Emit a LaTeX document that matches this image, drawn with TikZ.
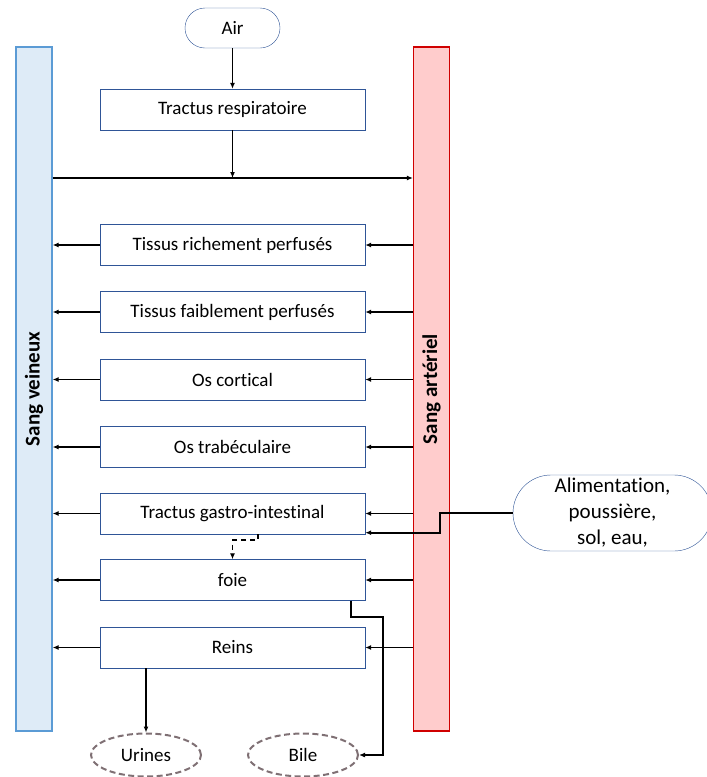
\documentclass[tikz,border=0pt]{standalone}
\usepackage{fontspec}
\setmainfont{Carlito}[Ligatures=NoCommon]
\usepackage{tikz}
\usetikzlibrary{arrows.meta,shapes.geometric,positioning}
\definecolor{boxblue}{HTML}{2F5597}
\definecolor{venfill}{HTML}{DEEBF7}
\definecolor{venline}{HTML}{5B9BD5}
\definecolor{artfill}{HTML}{FFCCCC}
\definecolor{artline}{HTML}{D00000}
\definecolor{outgray}{HTML}{7F7074}

\begin{document}
\begin{tikzpicture}[x=1pt, y=-1pt,
    every node/.style={font=\fontsize{19}{26}\selectfont},
    organ/.style={draw=boxblue, thin, fill=white, minimum width=265pt, minimum height=41pt, inner sep=0pt},
    term/.style={draw=boxblue, thin, rounded corners=#1, inner sep=0pt, align=center},
    bloodbar/.style={minimum width=36pt, minimum height=684pt, inner sep=0pt, line width=1.2pt},
    barlabel/.style={rotate=90, font=\fontsize{21}{24}\selectfont\bfseries},
    excr/.style={ellipse, draw=outgray, line width=2pt, dash pattern=on 6pt off 3.5pt, minimum width=110pt, minimum height=43pt, inner sep=0pt},
    arr/.style={-{Latex[length=6pt,width=5pt]}, line width=1.6pt}]
    \useasboundingbox (0,0) rectangle (707,777);
    % BLOOD COMPARTMENTS
    \node[bloodbar, draw=venline, fill=venfill] (veins) at (34, 389) {};
    \node[bloodbar, draw=artline, fill=artfill] (arteries) at (431.5, 389) {};
    \node[barlabel] (veinlbl) at (veins) {Sang veineux};
    \node[barlabel] (artlbl) at (arteries) {Sang artériel};
    % INPUTS
    \node[term=20pt, minimum width=95pt, minimum height=40pt] (air) at (232.5, 28) {Air};
    \node[term=38pt, minimum width=199pt, minimum height=76pt, font=\fontsize{21}{26}\selectfont] (food) at (612.5, 513) {Alimentation,\\poussière,\\sol, eau,};
    % ORGANS
    \node[organ] (resp) at (232.5, 109.5) {Tractus respiratoire};
    \node[organ] (rich) at (232.5, 245) {Tissus richement perfusés};
    \node[organ] (poor) at (232.5, 312) {Tissus faiblement perfusés};
    \node[organ] (cort) at (232.5, 379.5) {Os cortical};
    \node[organ] (trab) at (232.5, 447) {Os trabéculaire};
    \node[organ] (gi) at (232.5, 513.5) {Tractus gastro-intestinal};
    \node[organ] (liver) at (232.5, 580) {foie};
    \node[organ] (kidney) at (232.5, 647.5) {Reins};
    % OUTPUTS
    \node[excr] (urine) at (146, 755) {Urines};
    \node[excr] (bile) at (303, 755) {Bile};
    % LUNG
    \coordinate (mix) at (232.5, 178);
    \draw[arr] (air) -- (resp);
    \draw[arr] (resp) -- (mix);
    \draw[arr] (veins.east |- mix) -- (arteries.west |- mix);
    % ARTERIAL SUPPLY AND VENOUS RETURN
    \draw[arr] (arteries.west |- rich.east) -- (rich.east);
    \draw[arr] (arteries.west |- poor.east) -- (poor.east);
    \draw[arr] (arteries.west |- cort.east) -- (cort.east);
    \draw[arr] (arteries.west |- trab.east) -- (trab.east);
    \draw[arr] (arteries.west |- gi.east) -- (gi.east);
    \draw[arr] (arteries.west |- liver.east) -- (liver.east);
    \draw[arr] (arteries.west |- kidney.east) -- (kidney.east);
    \draw[arr] (rich.west) -- (rich.west -| veins.east);
    \draw[arr] (poor.west) -- (poor.west -| veins.east);
    \draw[arr] (cort.west) -- (cort.west -| veins.east);
    \draw[arr] (trab.west) -- (trab.west -| veins.east);
    \draw[arr] (gi.west) -- (gi.west -| veins.east);
    \draw[arr] (liver.west) -- (liver.west -| veins.east);
    \draw[arr] (kidney.west) -- (kidney.west -| veins.east);
    % INGESTION, PORTAL FLOW, EXCRETION
    \coordinate (foodbend) at (440, 513);
    \draw[arr] (food.west) -- (foodbend) |- ([yshift=1.5pt]gi.south east);
    \draw[arr, dash pattern=on 5pt off 4pt] ([xshift=25.5pt]gi.south) -- ++(0, 6) -| (liver.north);
    \coordinate (bilebend) at (383, 617);
    \draw[arr] ([xshift=-14pt]liver.south east) |- (bilebend) |- (bile.east);
    \draw[arr] (kidney.south -| urine.north) -- (urine.north);
\end{tikzpicture}
\end{document}
